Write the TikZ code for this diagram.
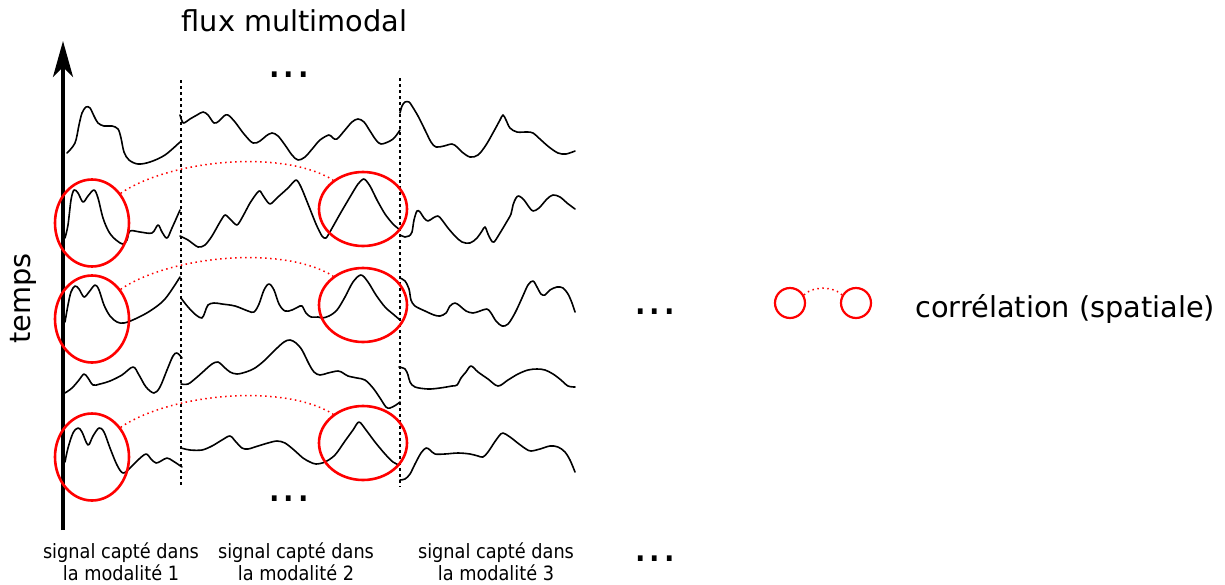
\documentclass[tikz,border=0pt]{standalone}
\usepackage{fontspec}
\setmainfont{DejaVu Sans}
\newfontfamily\condfont{DejaVu Sans Condensed}
\usetikzlibrary{shapes.geometric,arrows.meta}
\begin{document}
\begin{tikzpicture}[x=0.5pt,y=-0.5pt,
  sig/.style={line width=0.8pt, line join=round, line cap=round},
  sepline/.style={line width=1.3pt, dash pattern=on 1.3pt off 1.7pt},
  ell/.style={ellipse, draw=red, line width=1.3pt, inner sep=0pt},
  ellL/.style={ell, minimum width=37pt, minimum height=43.5pt},
  ellR/.style={ell, minimum width=44pt, minimum height=37pt},
  corr/.style={red, line width=0.75pt, dash pattern=on 0.75pt off 1.75pt},
  lbl/.style={font=\condfont\fontsize{9.85pt}{11pt}\selectfont, align=center, inner sep=0pt},
  big/.style={font=\fontsize{14.4pt}{17pt}\selectfont, inner sep=0pt},
  dotsty/.style={font=\fontsize{22.8pt}{26pt}\selectfont, inner sep=0pt},
  legc/.style={circle, draw=red, line width=1.1pt, minimum size=15pt, inner sep=0pt}
]
\useasboundingbox (0,0) rectangle (1225,584);

% time axis
\coordinate (t0) at (63,530);
\coordinate (t1) at (63,41);
\draw[line width=2pt, -{Stealth[length=18pt,width=10pt,inset=5pt]}] (t0) -- (t1);

% separators
\coordinate (s1a) at (181,80);  \coordinate (s1b) at (181,485);
\coordinate (s2a) at (400,78);  \coordinate (s2b) at (400,487);
\draw[sepline] (s1a) -- (s1b);
\draw[sepline] (s2a) -- (s2b);

% ---- column 1 signals
\draw[sig] plot[smooth, tension=0.55] coordinates {(67,153) (75,143) (79,125) (82,113) (86,107) (90,108) (94,116) (98,123) (104,126) (112,126) (118,129) (121,138) (124,152) (129,160) (138,164) (150,162) (165,155) (180,142)};
\draw[sig] plot[smooth, tension=0.55] coordinates {(65,238) (68,225) (71,200) (74,190) (78,193) (83,202) (88,196) (94,190) (98,198) (103,218) (109,232) (116,240) (123,244) (127,240) (130,231) (140,232) (152,233) (158,225) (162,232) (167,238) (172,228) (180,210)};
\draw[sig] plot[smooth, tension=0.55] coordinates {(65,322) (68,305) (71,292) (75,286) (79,289) (84,297) (89,292) (95,285) (99,290) (104,305) (110,316) (117,322) (124,323) (135,319) (150,311) (165,299) (180,277)};
\draw[sig] plot[smooth, tension=0.55] coordinates {(65,393) (72,388) (79,380) (84,374) (88,378) (93,385) (100,384) (110,381) (122,375) (133,367) (139,375) (146,387) (154,393) (160,387) (167,370) (173,356) (177,353) (182,358)};
\draw[sig] plot[smooth, tension=0.55] coordinates {(65,462) (68,448) (73,433) (78,428) (82,432) (88,445) (93,436) (99,428) (104,432) (110,448) (117,465) (123,473) (130,468) (138,460) (146,454) (151,459) (156,463) (161,461) (167,458) (173,461) (182,467)};

% ---- column 2 signals
\draw[sig] plot[smooth, tension=0.55] coordinates {(180,115) (182,121) (184,123) (190,119) (197,115) (203,112) (208,115) (214,123) (219,121) (224,116) (228,115) (235,122) (244,134) (253,143) (260,141) (266,136) (272,133) (278,136) (285,145) (292,155) (298,160) (305,157) (313,148) (320,140) (329,135) (333,138) (337,139) (345,130) (352,122) (358,119) (364,122) (370,131) (376,140) (381,144) (390,141) (395,137) (400,130)};
\draw[sig] plot[smooth, tension=0.45] coordinates {(180,236) (188,240) (198,247) (205,245) (212,236) (220,222) (225,215) (230,219) (237,225) (243,216) (250,203) (257,193) (260,191) (264,197) (270,204) (278,197) (288,188) (296,180) (301,187) (308,204) (316,224) (322,236) (326,238) (331,230) (340,214) (350,197) (358,184) (364,179) (370,186) (377,200) (385,214) (393,224) (400,230)};
\draw[sig] plot[smooth, tension=0.55] coordinates {(181,298) (188,307) (196,315) (202,318) (205,312) (208,305) (214,303) (222,304) (235,306) (248,311) (254,312) (259,304) (264,290) (269,284) (274,290) (279,304) (285,311) (292,310) (298,307) (302,306) (306,313) (311,317) (318,317) (322,318) (329,316) (337,310) (345,297) (353,282) (361,275) (368,282) (376,295) (385,307) (393,314) (400,320)};
\draw[sig] plot[smooth, tension=0.55] coordinates {(181,384) (188,384) (196,378) (205,370) (212,364) (218,362) (224,367) (230,372) (237,374) (246,372) (255,368) (265,360) (275,350) (284,342) (290,340) (296,343) (302,350) (309,364) (314,372) (320,375) (328,373) (338,371) (343,373) (348,376) (357,378) (365,380) (373,388) (380,398) (386,407) (390,408) (396,405) (400,402)};
\draw[sig] plot[smooth, tension=0.5] coordinates {(181,448) (190,450) (202,450) (212,446) (222,440) (230,436) (236,442) (242,448) (248,449) (258,446) (268,443) (277,441) (285,443) (294,450) (303,458) (310,462) (316,464) (325,462) (335,455) (345,441) (353,430) (359,422) (366,430) (375,442) (385,454) (393,462) (399,465)};

% ---- column 3 signals
\draw[sig] plot[smooth, tension=0.55] coordinates {(400,113) (402,106) (405,102) (409,102) (412,106) (418,116) (425,130) (431,142) (436,147) (444,146) (452,144) (457,147) (462,152) (470,157) (478,155) (486,145) (494,131) (500,120) (503,115) (506,120) (510,128) (517,132) (527,132) (533,133) (541,140) (549,147) (558,153) (566,154) (575,151)};
\draw[sig] plot[smooth, tension=0.55] coordinates {(400,235) (405,237) (409,236) (412,232) (414,220) (417,211) (420,212) (424,218) (428,221) (433,218) (438,216) (442,220) (448,228) (455,236) (462,242) (470,243) (477,238) (482,231) (485,227) (488,234) (491,240) (494,242) (500,233) (506,223) (511,214) (513,205) (516,198) (519,196) (524,200) (529,207) (533,211) (539,208) (547,199) (553,195) (560,197) (567,203) (575,209)};
\draw[sig] plot[smooth, tension=0.55] coordinates {(400,278) (405,281) (409,289) (411,300) (415,306) (425,311) (434,315) (440,316) (446,313) (450,306) (455,303) (460,306) (466,311) (473,313) (480,311) (487,309) (491,313) (496,321) (502,326) (508,324) (515,313) (522,298) (528,285) (533,281) (537,287) (541,294) (545,295) (550,290) (557,287) (563,288) (568,294) (572,303) (575,312)};
\draw[sig] plot[smooth, tension=0.55] coordinates {(399,367) (405,369) (408,375) (410,382) (415,387) (428,389) (440,388) (452,386) (457,385) (461,378) (466,372) (471,366) (478,372) (488,379) (498,386) (508,380) (518,374) (528,370) (537,369) (545,370) (553,374) (561,380) (568,386) (575,387)};
\draw[sig] plot[smooth, tension=0.55] coordinates {(400,480) (405,479) (410,474) (415,464) (421,453) (426,448) (430,450) (435,454) (445,454) (458,453) (470,454) (478,456) (483,457) (488,452) (494,443) (499,436) (503,433) (510,437) (519,444) (526,449) (531,451) (540,449) (550,446) (558,447) (565,452) (570,460) (575,472)};

% ---- ellipses
\node[ellL] (e21) at (92,223) {};
\node[ellL] (e31) at (92,319) {};
\node[ellL] (e51) at (92,457) {};
\node[ellR] (e22) at (363,209) {};
\node[ellR] (e32) at (363,305) {};
\node[ellR] (e52) at (363,443) {};

\draw[corr] (e21.46) .. controls +(50,-34) and +(-49,-31) .. (e22.136);
\draw[corr] (e31.46) .. controls +(50,-34) and +(-49,-31) .. (e32.136);
\draw[corr] (e51.46) .. controls +(50,-34) and +(-49,-31) .. (e52.136);

% ---- texts
\node[big, anchor=base] (title) at (294.5,31) {flux multimodal};
\node[big, anchor=base, rotate=90] (temps) at (30,298.5) {temps};
\node[dotsty, anchor=base] (dtop) at (289,77) {...};
\node[dotsty, anchor=base] (dbot) at (289,501) {...};
\node[dotsty, anchor=base] (dright) at (655,314) {...};
\node[dotsty, anchor=base] (dbr) at (655,561) {...};

\node[lbl, anchor=base] (lab1) at (121,580) {signal capté dans\\la modalité 1};
\node[lbl, anchor=base] (lab2) at (296,580) {signal capté dans\\la modalité 2};
\node[lbl, anchor=base] (lab3) at (496,580) {signal capté dans\\la modalité 3};

% ---- legend
\node[legc] (l1) at (790,303) {};
\node[legc] (l2) at (856,303) {};
\draw[corr] (l1.30) .. controls +(8,-9) and +(-8,-9) .. (l2.150);
\node[big, anchor=base west] (legtext) at (915,317) {corrélation (spatiale)};
\end{tikzpicture}
\end{document}
